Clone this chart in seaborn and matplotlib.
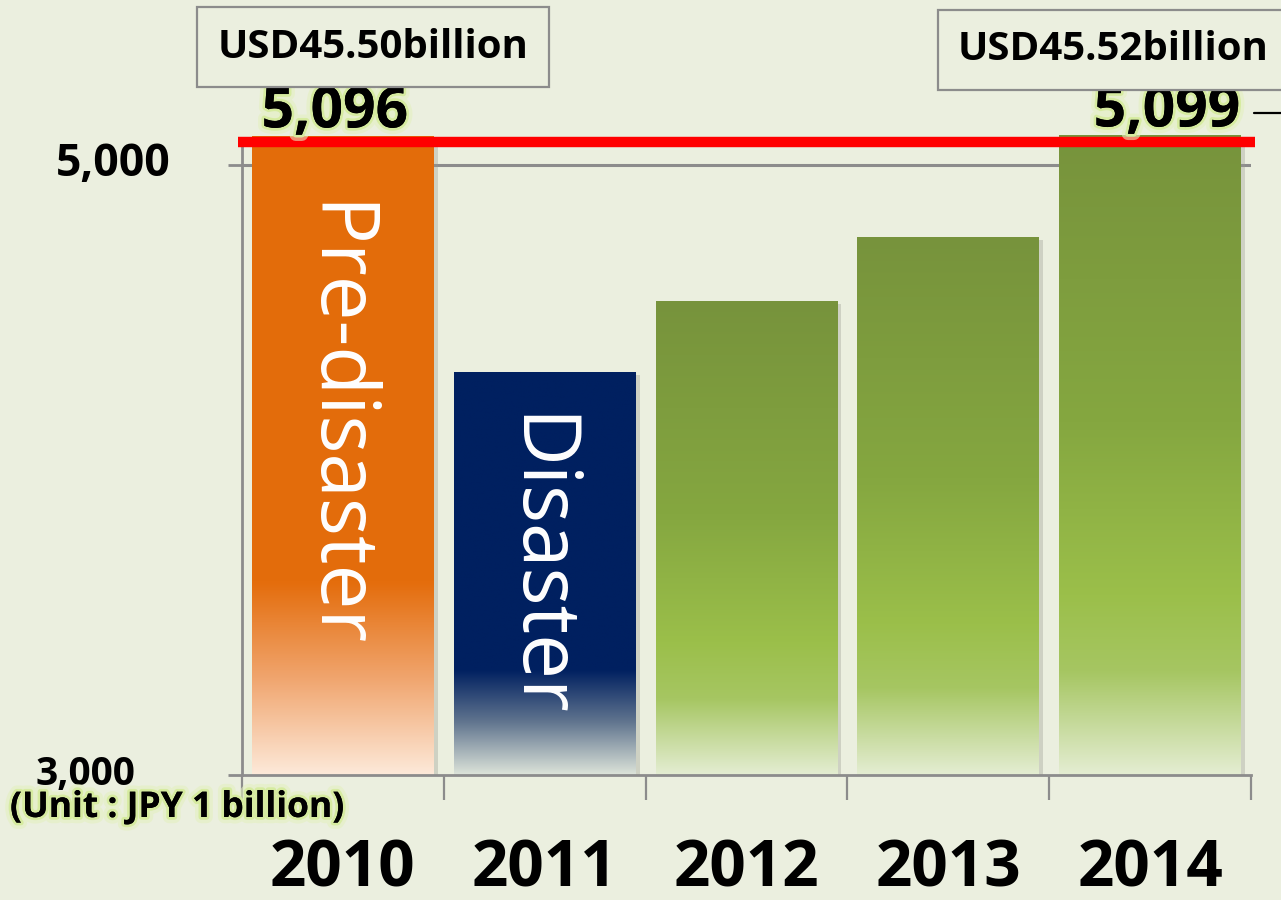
import numpy as np
import pandas as pd
import matplotlib
matplotlib.use('Agg')
import matplotlib.pyplot as plt
import matplotlib.patheffects as pe
from matplotlib.colors import LinearSegmentedColormap
from matplotlib.ticker import FixedLocator
from matplotlib.lines import Line2D
import seaborn as sns

# ---------------- data ----------------
years = ['2010', '2011', '2012', '2013', '2014']
values = [5096, 4320, 4553, 4764, 5099]
value_labels = ['5,096', '', '', '', '5,099']
bar_texts = ['Pre-disaster', 'Disaster', '', '', '']
usd_labels = ['USD45.50billion', 'USD45.52billion']
ytick_values = [3000, 5000]
ytick_labels = ['3,000', '5,000']
reference_level = 5075
unit_label = '(Unit : JPY 1 billion)'

# ---------------- style ----------------
BG = '#EBEFDF'
GREY = '#8C8C8C'
sns.set_theme(style='white')
plt.rcParams['font.family'] = ['Open Sans', 'DejaVu Sans']

orange = [(0.0, '#E36C0A'), (0.70, '#E46D0C'), (0.85, '#F0A56E'), (1.0, '#FDE9D9')]
navy = [(0.0, '#002060'), (0.74, '#002060'), (0.87, '#61758F'), (1.0, '#DCE3D9')]
green = [(0.0, '#77933C'), (0.45, '#85A740'), (0.72, '#9BBF4A'), (0.84, '#A6C662'), (1.0, '#E4EDD2')]
gradients = [orange, navy, green, green, green]

fig = plt.figure(figsize=(12.81, 9.0), dpi=100, facecolor=BG)
ax = fig.add_axes([242 / 1281, 1 - 775 / 900, 1009 / 1281, (775 - 104) / 900])
ax.set_facecolor(BG)

df = pd.DataFrame({'year': years, 'value': values})
sns.barplot(data=df, x='year', y='value', ax=ax, width=0.9, color='white',
            saturation=1, edgecolor='none', zorder=2)

ymin, ymax = 3000, 5200
ax.set_ylim(ymin, ymax)
ax.set_xlim(-0.5, len(years) - 0.5)

grad = np.linspace(0, 1, 512).reshape(-1, 1)
for patch, stops in zip(ax.patches, gradients):
    x0 = patch.get_x()
    w = patch.get_width()
    top = patch.get_y() + patch.get_height()
    cmap = LinearSegmentedColormap.from_list('g', stops)
    patch.set_path_effects([pe.SimplePatchShadow(offset=(3, -2), shadow_rgbFace='#9a9a90', alpha=0.35)])
    im = ax.imshow(grad, cmap=cmap, extent=[x0, x0 + w, ymin, top], origin='upper',
                   aspect='auto', zorder=3, interpolation='bicubic')
    im.set_clip_path(patch)
ax.set_ylim(ymin, ymax)
ax.set_xlim(-0.5, len(years) - 0.5)

# gridline at 5000
ax.axhline(5000, color=GREY, lw=2.2, zorder=1)

# spines
for s in ['top', 'right']:
    ax.spines[s].set_visible(False)
for s in ['left', 'bottom']:
    ax.spines[s].set_color(GREY)
    ax.spines[s].set_linewidth(2.0)
    ax.spines[s].set_zorder(4)
ax.spines['left'].set_bounds(ymin, 5065)

# y ticks
ax.set_yticks(ytick_values)
ax.set_yticklabels(['', ''])
ax.tick_params(axis='y', which='major', direction='out', length=10, width=2, color=GREY, left=True)
ylab_x = [-0.106, -0.0705]
ylab_size = [28, 32]
for v, lab, xx, fs in zip(ytick_values, ytick_labels, ylab_x, ylab_size):
    ax.text(xx, v, lab, transform=ax.get_yaxis_transform(), ha='right', va='center',
            fontsize=fs, fontweight='bold', color='black', zorder=6)

# x ticks
ax.set_xticks(range(len(years)))
ax.set_xticklabels(years)
ax.xaxis.set_minor_locator(FixedLocator(np.arange(-0.5, len(years), 1.0)))
ax.tick_params(axis='x', which='major', length=0, pad=45, labelsize=46)
ax.tick_params(axis='x', which='minor', direction='out', length=18, width=1.6, color=GREY, bottom=True)
for t in ax.get_xticklabels():
    t.set_fontweight('bold')
    t.set_color('black')
ax.set_xlabel('')
ax.set_ylabel('')

# text inside bars
text_tops = [4880, 4185]
for i, txt in enumerate(bar_texts):
    if txt:
        ax.text(i - 0.04, text_tops[i], txt, rotation=-90, ha='center', va='top',
                color='white', fontsize=57.5, zorder=6)

# reference line
ax.hlines(reference_level, -0.52, len(years) - 0.48, color='#FF0000', lw=7.5,
          clip_on=False, zorder=5)

glow = [pe.withStroke(linewidth=9, foreground='#E4F0C0', alpha=0.6),
        pe.withStroke(linewidth=4, foreground='#D6EBA0'), pe.Normal()]

label_dx = [-8, 0, 0, 0, 17]
for i, (v, lab) in enumerate(zip(values, value_labels)):
    if lab:
        t = ax.annotate(lab, xy=(i, v), xytext=(label_dx[i] * 0.72, 6), textcoords='offset points',
                        ha='center', va='baseline', fontsize=41, fontweight='bold',
                        color='black', zorder=7, annotation_clip=False)
        t.set_path_effects(glow)

# small leader dash after the 2014 value
fig.add_artist(Line2D([1254 / 1281, 1.0], [1 - 113 / 900, 1 - 113 / 900],
                      transform=fig.transFigure, color='black', lw=1.6))

# USD boxes
box_pos = [(373 / 1281, 1 - 47 / 900), (958 / 1281, 1 - 50 / 900)]
box_ha = ['center', 'left']
for (bx, by), lab, ha in zip(box_pos, usd_labels, box_ha):
    fig.text(bx, by, lab, ha=ha, va='center', fontsize=29, fontweight='bold', color='black',
             bbox=dict(boxstyle='square,pad=0.5', facecolor=BG, edgecolor=GREY, linewidth=1.6))

# unit label
fig.text(10 / 1281, 1 - 808 / 900, unit_label, ha='left', va='center', fontsize=25.5,
         fontweight='bold', color='black', path_effects=glow, zorder=8)

fig.savefig('out.png', dpi=100, facecolor=BG)
